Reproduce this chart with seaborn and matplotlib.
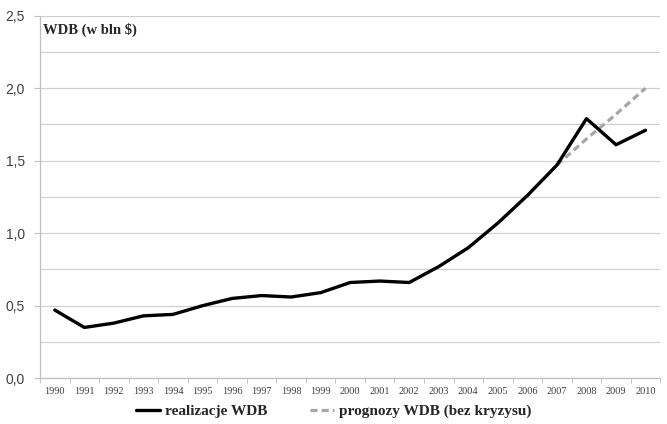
import numpy as np
import pandas as pd
import matplotlib
matplotlib.use("Agg")
import matplotlib.pyplot as plt
from matplotlib.ticker import MultipleLocator, FuncFormatter
import seaborn as sns

# data
years = list(range(1990, 2011))
realizacje = [0.47, 0.35, 0.38, 0.43, 0.44, 0.50, 0.55, 0.57, 0.56, 0.59, 0.66,
              0.67, 0.66, 0.77, 0.90, 1.07, 1.26, 1.47, 1.79, 1.61, 1.71]
prognoza_years = [2007, 2008, 2009, 2010]
prognozy = [1.47, 1.65, 1.82, 2.00]

df_real = pd.DataFrame({'rok': years, 'WDB': realizacje})
df_prog = pd.DataFrame({'rok': prognoza_years, 'WDB': prognozy})

sns.set_style("white")
plt.rcParams['font.family'] = ['Liberation Serif', 'DejaVu Serif']

fig = plt.figure(figsize=(6.67, 4.24), dpi=100)
ax = fig.add_axes([0.06, 0.108, 0.93, 0.855])

sns.lineplot(data=df_prog, x='rok', y='WDB', ax=ax, color='#a6a6a6', lw=2.3,
             dashes=False, linestyle=(0, (2.2, 1.3)), label='prognozy WDB (bez kryzysu)',
             solid_capstyle='butt')
sns.lineplot(data=df_real, x='rok', y='WDB', ax=ax, color='black', lw=2.4,
             label='realizacje WDB', solid_joinstyle='round', solid_capstyle='round')

ax.set_xlim(1989.5, 2010.5)
ax.set_ylim(0, 2.5)
ax.set_xlabel('')
ax.set_ylabel('')

ax.set_xticks(years)
ax.set_xticklabels([str(y) for y in years], fontsize=7.4, color='#404040')
ax.xaxis.set_minor_locator(MultipleLocator(1, offset=0.5))
ax.tick_params(axis='x', which='major', length=0, pad=6)
ax.tick_params(axis='x', which='minor', length=3.5, color='#bfbfbf', bottom=True)

ax.yaxis.set_major_locator(MultipleLocator(0.5))
ax.yaxis.set_minor_locator(MultipleLocator(0.25))
ax.yaxis.set_major_formatter(FuncFormatter(lambda v, p: f"{v:.1f}".replace('.', ',')))
ax.tick_params(axis='y', which='major', length=4, color='#bfbfbf', left=True,
               labelsize=10, labelcolor='#404040', pad=7)
for lab in ax.get_yticklabels():
    lab.set_family(['Liberation Sans', 'DejaVu Sans'])
ax.tick_params(axis='y', which='minor', length=0)
ax.grid(axis='y', which='both', color='#d0d0d0', lw=0.9)
ax.set_axisbelow(True)

for s in ['top', 'right']:
    ax.spines[s].set_visible(False)
for s in ['left', 'bottom']:
    ax.spines[s].set_color('#bfbfbf')
    ax.spines[s].set_linewidth(0.9)

ax.text(0.005, 0.98, 'WDB (w bln $)', transform=ax.transAxes, fontsize=10.5,
        fontweight='bold', va='top', ha='left')

h, l = ax.get_legend_handles_labels()
ax.legend(h[::-1], l[::-1], loc='center', bbox_to_anchor=(0.5, 0.03),
          bbox_transform=fig.transFigure, ncol=2, frameon=False,
          handlelength=1.6, columnspacing=2.8, handletextpad=0.3,
          prop={'family': 'Liberation Serif', 'weight': 'bold', 'size': 11})

fig.savefig('out.png', dpi=100)
